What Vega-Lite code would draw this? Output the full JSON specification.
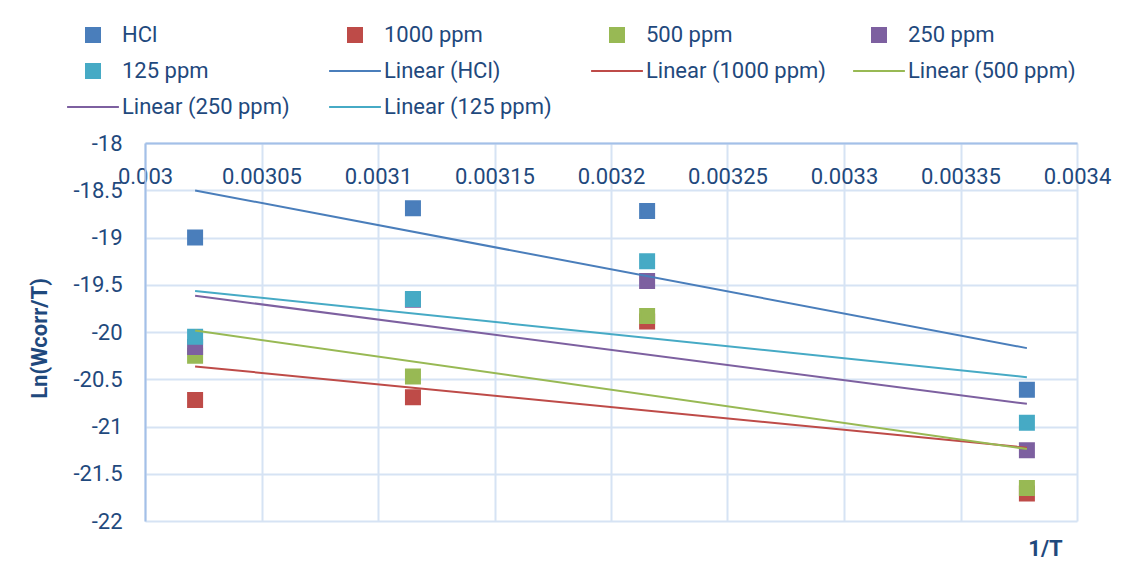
{
  "$schema": "https://vega.github.io/schema/vega-lite/v6.json",
  "width": 932,
  "height": 378,
  "autosize": {"type": "none"},
  "padding": {"left": 145, "top": 143, "right": 46, "bottom": 44},
  "background": "white",
  "config": {
    "font": "Roboto",
    "view": {"stroke": null},
    "locale": {"number": {"decimal": ".", "thousands": ",", "grouping": [3], "currency": ["$", ""], "minus": "-"}},
    "axis": {
      "labelFont": "Roboto",
      "labelFontSize": 22,
      "labelColor": "#1F497D",
      "titleFont": "Roboto",
      "titleFontSize": 22,
      "titleFontWeight": "bold",
      "titleColor": "#1F497D",
      "gridColor": "#D6E3F4",
      "gridWidth": 2,
      "domainColor": "#A3C0E8",
      "domainWidth": 2,
      "ticks": false,
      "tickSize": 0,
      "labelFlush": false,
      "labelOverlap": false,
      "labelBound": false
    },
    "legend": {
      "orient": "none",
      "legendX": -63,
      "legendY": -119,
      "direction": "horizontal",
      "columns": 4,
      "gridAlign": "all",
      "columnPadding": 23,
      "rowPadding": 14,
      "padding": 0,
      "symbolSize": 196,
      "symbolStrokeWidth": 2,
      "symbolOpacity": 1,
      "labelFont": "Roboto",
      "labelFontSize": 22,
      "labelColor": "#1F497D",
      "labelOffset": 18,
      "labelLimit": 0
    }
  },
  "data": {
    "values": [
      {"x": 0.0030215, "y": -19.0, "series": "HCl", "trend": "Linear (HCl)"},
      {"x": 0.003115, "y": -18.69, "series": "HCl", "trend": "Linear (HCl)"},
      {"x": 0.0032155, "y": -18.72, "series": "HCl", "trend": "Linear (HCl)"},
      {"x": 0.0033785, "y": -20.61, "series": "HCl", "trend": "Linear (HCl)"},
      {"x": 0.0030215, "y": -20.72, "series": "1000 ppm", "trend": "Linear (1000 ppm)"},
      {"x": 0.003115, "y": -20.69, "series": "1000 ppm", "trend": "Linear (1000 ppm)"},
      {"x": 0.0032155, "y": -19.89, "series": "1000 ppm", "trend": "Linear (1000 ppm)"},
      {"x": 0.0033785, "y": -21.71, "series": "1000 ppm", "trend": "Linear (1000 ppm)"},
      {"x": 0.0030215, "y": -20.25, "series": "500 ppm", "trend": "Linear (500 ppm)"},
      {"x": 0.003115, "y": -20.47, "series": "500 ppm", "trend": "Linear (500 ppm)"},
      {"x": 0.0032155, "y": -19.83, "series": "500 ppm", "trend": "Linear (500 ppm)"},
      {"x": 0.0033785, "y": -21.65, "series": "500 ppm", "trend": "Linear (500 ppm)"},
      {"x": 0.0030215, "y": -20.16, "series": "250 ppm", "trend": "Linear (250 ppm)"},
      {"x": 0.003115, "y": -19.66, "series": "250 ppm", "trend": "Linear (250 ppm)"},
      {"x": 0.0032155, "y": -19.46, "series": "250 ppm", "trend": "Linear (250 ppm)"},
      {"x": 0.0033785, "y": -21.25, "series": "250 ppm", "trend": "Linear (250 ppm)"},
      {"x": 0.0030215, "y": -20.05, "series": "125 ppm", "trend": "Linear (125 ppm)"},
      {"x": 0.003115, "y": -19.65, "series": "125 ppm", "trend": "Linear (125 ppm)"},
      {"x": 0.0032155, "y": -19.25, "series": "125 ppm", "trend": "Linear (125 ppm)"},
      {"x": 0.0033785, "y": -20.96, "series": "125 ppm", "trend": "Linear (125 ppm)"}
    ]
  },
  "layer": [
    {
      "mark": {"type": "point", "filled": true, "opacity": 1, "strokeWidth": 2, "size": 196},
      "encoding": {
        "x": {
          "field": "x",
          "type": "quantitative",
          "scale": {"domain": [0.003, 0.0034], "nice": false, "zero": false},
          "axis": {
            "orient": "top",
            "values": [0.003, 0.00305, 0.0031, 0.00315, 0.0032, 0.00325, 0.0033, 0.00335, 0.0034],
            "format": "~g",
            "labelBaseline": "alphabetic",
            "labelPadding": -40,
            "title": "1/T",
            "titleX": 900,
            "titleY": 405,
            "titleAlign": "center",
            "titleBaseline": "middle",
            "titleAngle": 0
          }
        },
        "y": {
          "field": "y",
          "type": "quantitative",
          "scale": {"domain": [-22, -18], "nice": false, "zero": false},
          "axis": {
            "values": [-22, -21.5, -21, -20.5, -20, -19.5, -19, -18.5, -18],
            "format": "~g",
            "labelPadding": 23,
            "title": "Ln(Wcorr/T)",
            "titleX": -106,
            "titleY": 195,
            "titleAlign": "center",
            "titleBaseline": "middle",
            "titleAngle": -90
          }
        },
        "fill": {
          "field": "series",
          "type": "nominal",
          "title": null,
          "scale": {
            "domain": ["HCl", "1000 ppm", "500 ppm", "250 ppm", "125 ppm", "Linear (HCl)", "Linear (1000 ppm)", "Linear (500 ppm)", "Linear (250 ppm)", "Linear (125 ppm)"],
            "range": ["#4A7EBB", "#BE4B48", "#98B954", "#7D60A0", "#46AAC5", "transparent", "transparent", "transparent", "transparent", "transparent"]
          },
          "legend": {"title": null}
        },
        "stroke": {
          "field": "series",
          "type": "nominal",
          "title": null,
          "scale": {
            "domain": ["HCl", "1000 ppm", "500 ppm", "250 ppm", "125 ppm", "Linear (HCl)", "Linear (1000 ppm)", "Linear (500 ppm)", "Linear (250 ppm)", "Linear (125 ppm)"],
            "range": ["#4A7EBB", "#BE4B48", "#98B954", "#7D60A0", "#46AAC5", "#4A7EBB", "#BE4B48", "#98B954", "#7D60A0", "#46AAC5"]
          },
          "legend": {"title": null}
        },
        "shape": {
          "field": "series",
          "type": "nominal",
          "title": null,
          "scale": {
            "domain": ["HCl", "1000 ppm", "500 ppm", "250 ppm", "125 ppm", "Linear (HCl)", "Linear (1000 ppm)", "Linear (500 ppm)", "Linear (250 ppm)", "Linear (125 ppm)"],
            "range": ["square", "square", "square", "square", "square", "M-3.7,0H3.7", "M-3.7,0H3.7", "M-3.7,0H3.7", "M-3.7,0H3.7", "M-3.7,0H3.7"]
          },
          "legend": {"title": null}
        }
      }
    },
    {
      "transform": [{"regression": "y", "on": "x", "groupby": ["trend"]}],
      "mark": {"type": "line", "strokeWidth": 2},
      "encoding": {
        "x": {"field": "x", "type": "quantitative"},
        "y": {"field": "y", "type": "quantitative"},
        "color": {
          "field": "trend",
          "type": "nominal",
          "scale": {
            "domain": ["Linear (HCl)", "Linear (1000 ppm)", "Linear (500 ppm)", "Linear (250 ppm)", "Linear (125 ppm)"],
            "range": ["#4A7EBB", "#BE4B48", "#98B954", "#7D60A0", "#46AAC5"]
          },
          "legend": null
        }
      }
    }
  ]
}
